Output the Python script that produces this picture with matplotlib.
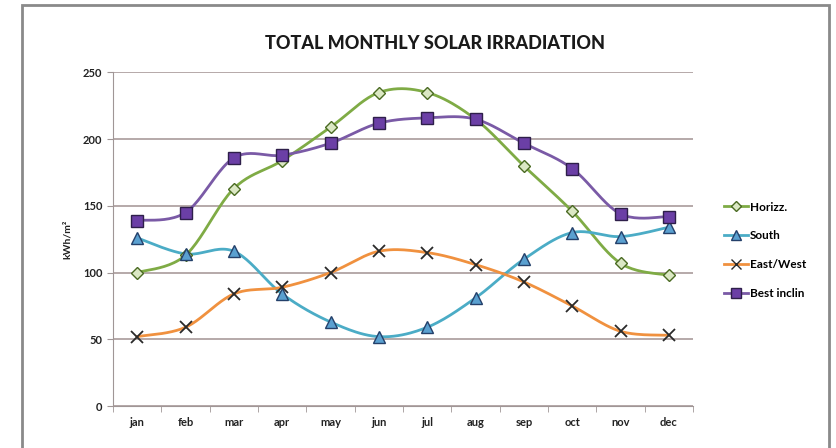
import matplotlib
matplotlib.use('Agg')
import numpy as np
import matplotlib.pyplot as plt
from matplotlib.patches import Rectangle
from matplotlib.lines import Line2D

plt.rcParams['font.family'] = ['Lato', 'DejaVu Sans']

months = ['jan', 'feb', 'mar', 'apr', 'may', 'jun', 'jul', 'aug', 'sep', 'oct', 'nov', 'dec']
horizz = [100, 113, 163, 184, 209, 235, 235, 215, 180, 146, 107, 98]
south = [126, 114, 116, 84, 63, 52, 59, 81, 110, 130, 127, 134]
east_west = [52, 59, 84, 89, 100, 116, 115, 106, 93, 75, 56, 53]
best_inclin = [139, 145, 186, 188, 197, 212, 216, 215, 197, 178, 144, 142]


def smooth(xs, ys, n=24):
    # excel-like smoothed line (bezier through the points)
    xs = np.asarray(xs, float)
    ys = np.asarray(ys, float)
    px = np.concatenate([[xs[0]], xs, [xs[-1]]])
    py = np.concatenate([[ys[0]], ys, [ys[-1]]])
    ox, oy = [], []
    t = np.linspace(0, 1, n)
    for i in range(1, len(px) - 2):
        p0 = np.array([px[i], py[i]])
        p3 = np.array([px[i + 1], py[i + 1]])
        c1 = p0 + (np.array([px[i + 1], py[i + 1]]) - np.array([px[i - 1], py[i - 1]])) / 6
        c2 = p3 - (np.array([px[i + 2], py[i + 2]]) - np.array([px[i], py[i]])) / 6
        b = ((1 - t) ** 3)[:, None] * p0 + (3 * (1 - t) ** 2 * t)[:, None] * c1 \
            + (3 * (1 - t) * t ** 2)[:, None] * c2 + (t ** 3)[:, None] * p3
        ox.extend(b[:, 0])
        oy.extend(b[:, 1])
    return ox, oy


fig = plt.figure(figsize=(8.36, 4.48), dpi=100)
fig.patches.append(Rectangle((22 / 836, -0.1), 807 / 836, 1.1 - 5 / 448,
                             transform=fig.transFigure, fill=False,
                             edgecolor='#8a8a8a', lw=2))
ax = fig.add_axes([113 / 836, 42 / 448, 580 / 836, 333.5 / 448])

x = np.arange(len(months))
series = [
    ('Horizz.', horizz, '#7fab45', 'D', '#dbe8c4', '#4a6a22', 6.5),
    ('South', south, '#4bacc6', '^', '#5aa0d0', '#24406a', 8),
    ('East/West', east_west, '#f0913f', 'x', 'none', '#2a2a2a', 8),
    ('Best inclin', best_inclin, '#7a5aa6', 's', '#6b3fa6', '#2e1f4a', 8.5),
]
handles = []
for name, vals, col, mk, fc, ec, ms in series:
    sx, sy = smooth(x, vals)
    ax.plot(sx, sy, color=col, lw=2, zorder=3)
    if mk == 'x':
        ax.plot(x, vals, ls='none', marker=mk, ms=ms, mec=ec, mew=1.3, zorder=4)
    else:
        ax.plot(x, vals, ls='none', marker=mk, ms=ms, mfc=fc, mec=ec, mew=1.0, zorder=4)
    handles.append(Line2D([], [], color=col, lw=2, marker=mk, ms=ms - 1.5,
                          mfc=fc, mec=ec, mew=1.0, label=name))

ax.set_xlim(-0.5, 11.5)
ax.set_ylim(0, 250)
ax.set_yticks(range(0, 251, 50))
ax.set_xticks(x)
ax.set_xticklabels(months, fontsize=8, color='#222222', fontweight='bold')
ax.set_xticks(np.arange(-0.5, 12, 1), minor=True)
ax.tick_params(axis='x', which='major', length=0, pad=8)
ax.tick_params(axis='x', which='minor', length=4, color='#a09696')
ax.tick_params(axis='y', length=4, color='#a09696', labelsize=8, labelcolor='#222222')
for lab in ax.get_yticklabels():
    lab.set_fontweight('bold')
ax.grid(axis='y', color='#b0a3a3', lw=1.3)
ax.set_axisbelow(True)
for s in ['top', 'right']:
    ax.spines[s].set_visible(False)
ax.spines['left'].set_color('#a09696')
ax.spines['bottom'].set_color('#a09696')
ax.set_ylabel('kWh/m²', fontsize=7.5, fontweight='bold', color='#222222', labelpad=8)
ax.set_title('TOTAL MONTHLY SOLAR IRRADIATION', fontsize=13, fontweight='black',
             color='#1a1a1a', pad=17, x=0.555)

fig.legend(handles=handles, loc='upper left', bbox_to_anchor=(713 / 836, 1 - 191 / 448),
           frameon=False, handlelength=2.1, handletextpad=0.1,
           labelspacing=1.5, prop={'size': 8.5, 'weight': 'bold'})

plt.savefig('out.png', dpi=100)
